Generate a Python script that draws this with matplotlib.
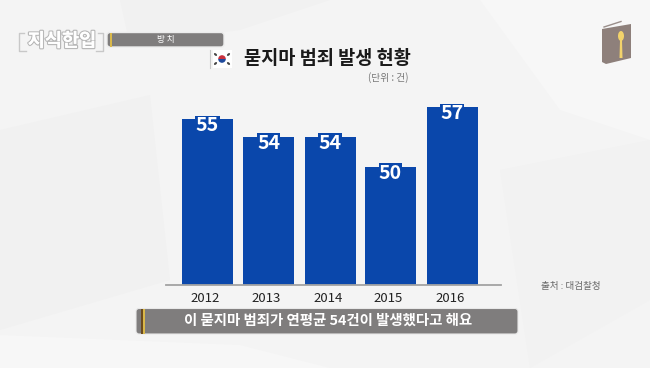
#!/usr/bin/env python3
import matplotlib
matplotlib.use('Agg')
import matplotlib.pyplot as plt
import matplotlib.patheffects as pe
from matplotlib.patches import FancyBboxPatch, Polygon, Rectangle, Wedge, Ellipse

plt.rcParams['font.family'] = ['Noto Sans CJK KR', 'DejaVu Sans']

years = ['2012', '2013', '2014', '2015', '2016']
labels = ['55', '54', '54', '50', '57']
# heights as drawn in the picture: the original bars are not quite proportional to their labels
drawn_heights = [55.95, 53.75, 53.75, 50.0, 57.45]

BLUE = '#0a47ab'
PAPER = '#f4f4f4'
GREY = '#7f7d7d'
GOLD = '#d9b84a'

fig = plt.figure(figsize=(6.5, 3.68), dpi=100, facecolor=PAPER)

# overlay in pixel coordinates for the video frame decoration
bg = fig.add_axes([0, 0, 1, 1])
bg.set_xlim(0, 650)
bg.set_ylim(368, 0)
bg.axis('off')

creases = [
    ([(0, 130), (150, 95), (170, 280), (0, 330)], '#f1f1f1'),
    ([(480, 0), (650, 0), (650, 140), (560, 110)], '#f7f7f7'),
    ([(500, 170), (650, 140), (650, 300), (530, 368)], '#f2f2f2'),
    ([(0, 335), (240, 345), (330, 368), (0, 368)], '#f7f7f7'),
    ([(120, 0), (330, 0), (240, 30), (130, 45)], '#f1f1f1'),
]
for pts, col in creases:
    bg.add_patch(Polygon(pts, closed=True, fc=col, ec='none', zorder=0))

# chart: 8 px per drawn unit, baseline at y=284.5
ax = fig.add_axes([0, (368 - 284.5) / 368, 1, 284.5 / 368])
ax.patch.set_alpha(0)
ax.set_xlim(0, 650)
ax.set_ylim(50 - 117.5 / 8, 50 - 117.5 / 8 + 284.5 / 8)
positions = [207.5, 268.5, 330, 390.5, 452]
ax.bar(positions, drawn_heights, width=51, color=BLUE, zorder=2)
for s in ['top', 'right', 'left', 'bottom']:
    ax.spines[s].set_visible(False)
ax.set_yticks([])
ax.set_xticks([])
ax.plot([166, 501], [ax.get_ylim()[0]] * 2, color='#a3a3a3', lw=1.3, zorder=3, clip_on=False)

for x, h, lab, yr in zip(positions, drawn_heights, labels, years):
    ax.text(x, h - 0.75, lab, ha='center', va='center', fontsize=14, fontweight='bold',
            color='white', zorder=5,
            bbox=dict(boxstyle='square,pad=0.02', fc=BLUE, ec='none'))
    bg.text(x - 2, 298, yr, ha='center', va='center', fontsize=9.5, color='#222222', zorder=5)

# title block
bg.plot([210, 210], [50, 68], color='#c8c8c8', lw=0.8)
bg.add_patch(Rectangle((213, 50), 19, 18, fc='white', ec='none'))
bg.add_patch(Wedge((222, 59), 3.8, 180, 360, fc='#c9303e', ec='none', zorder=3))
bg.add_patch(Wedge((222, 59), 3.8, 0, 180, fc='#1f4a9c', ec='none', zorder=3))
for dx, dy, ang in [(-6.5, -4.5, 40), (6.5, -4.5, -40), (-6.5, 4.5, -40), (6.5, 4.5, 40)]:
    bg.add_patch(Ellipse((222 + dx, 59 + dy), 3.6, 2.2, angle=ang, fc='#444444', ec='none'))
bg.text(327.5, 58.5, '묻지마 범죄 발생 현황', ha='center', va='center', fontsize=13.4,
        fontweight='bold', color='#1a1a1a')
bg.text(388, 78, '(단위 : 건)', ha='center', va='center', fontsize=7, color='#777777')
bg.text(571, 286, '출처 : 대검찰청', ha='center', va='center', fontsize=6.9, color='#666666')

# logo, section tag
bg.text(62, 41, '지식한입', ha='center', va='center', fontsize=13.4, fontweight='bold', color='white',
        path_effects=[pe.withStroke(linewidth=1.8, foreground='#b8b8b8'), pe.Normal()])
bg.plot([24, 19, 19, 26], [33, 33, 51, 51], color='#c8c8c8', lw=1)
bg.plot([96, 103, 103, 98], [51, 51, 33, 33], color='#c8c8c8', lw=1)
bg.add_patch(FancyBboxPatch((107, 32.5), 117, 14.5, boxstyle='round,pad=0,rounding_size=3',
                            fc=GREY, ec='#ececec', lw=1))
bg.add_patch(Rectangle((110, 32.5), 1.6, 14.5, fc=GOLD, ec='none', zorder=3))
bg.text(166, 39.8, '방 치', ha='center', va='center', fontsize=6.2, color='white')

# caption bar
bg.add_patch(FancyBboxPatch((136, 308.5), 382, 25.5, boxstyle='round,pad=0,rounding_size=3',
                            fc=GREY, ec='#e8e8e8', lw=0.8, zorder=6))
bg.add_patch(Rectangle((141, 308.5), 1.8, 25.5, fc='#6b4a1e', ec='none', zorder=7))
bg.add_patch(Rectangle((143, 308.5), 1.6, 25.5, fc=GOLD, ec='none', zorder=7))
bg.text(328.5, 320.8, '이 묻지마 범죄가 연평균 54건이 발생했다고 해요', ha='center', va='center',
        fontsize=10.4, fontweight='bold', color='white', zorder=8)

# book icon
bg.add_patch(Polygon([(602, 29), (631, 24), (631, 58), (606, 64), (602, 62)], closed=True,
                     fc='#8e807b', ec='none'))
bg.plot([604, 621], [27, 21.5], color='#9a8e8a', lw=1)
bg.add_patch(Ellipse((621, 36), 6, 10, fc='#f2d36b', ec='none', zorder=3))
bg.add_patch(Polygon([(620, 40), (622, 40), (622.5, 58), (619.5, 58)], closed=True,
                     fc='#f2d36b', ec='none', zorder=3))

fig.savefig('out.png', dpi=100, facecolor=PAPER)
